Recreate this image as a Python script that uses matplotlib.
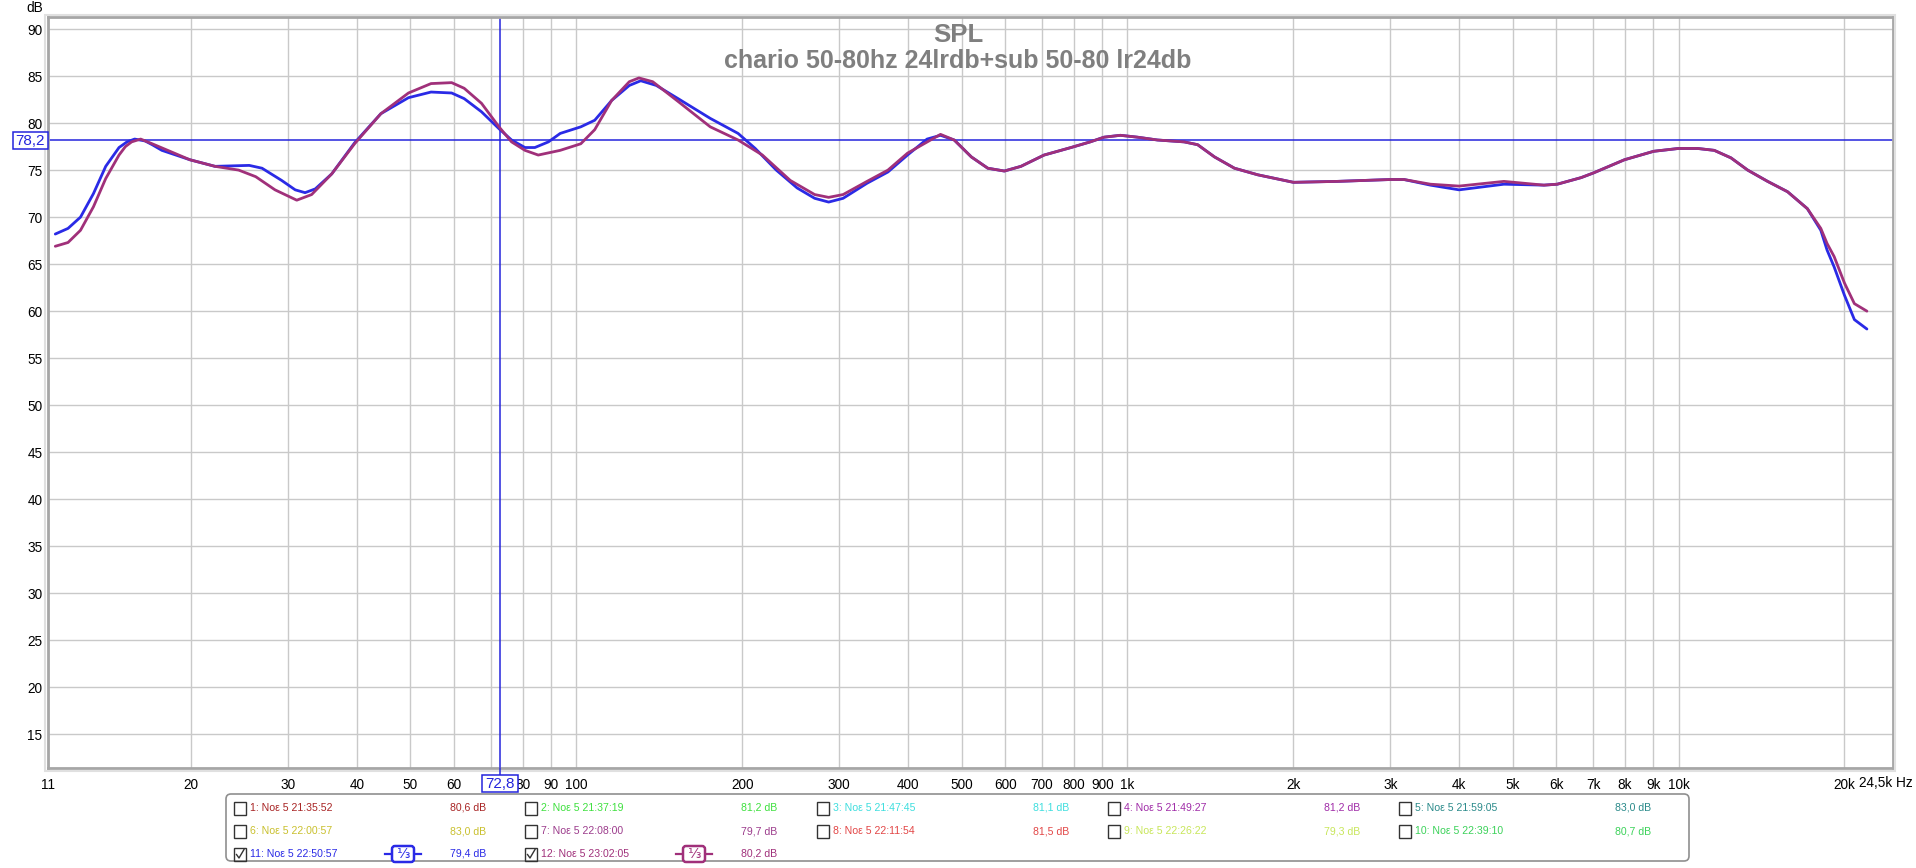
import matplotlib
matplotlib.use("Agg")
import matplotlib.pyplot as plt
from matplotlib import font_manager
from matplotlib.patches import FancyBboxPatch, Rectangle
from matplotlib.ticker import NullLocator, FixedLocator, FixedFormatter

# ---------------- data ----------------
title_main = "SPL"
title_sub = "chario 50-80hz 24lrdb+sub 50-80 lr24db"

x_ticks = [11, 20, 30, 40, 50, 60, 70, 80, 90, 100, 200, 300, 400, 500, 600, 700, 800, 900,
           1000, 2000, 3000, 4000, 5000, 6000, 7000, 8000, 9000, 10000, 20000]
x_tick_labels = ["11", "20", "30", "40", "50", "60", "70", "80", "90", "100", "200", "300", "400",
                 "500", "600", "700", "800", "900", "1k", "2k", "3k", "4k", "5k", "6k", "7k", "8k",
                 "9k", "10k", "20k"]
x_end_label = "24,5k Hz"
y_ticks = [15, 20, 25, 30, 35, 40, 45, 50, 55, 60, 65, 70, 75, 80, 85, 90]

cursor_freq = 72.8
cursor_db = 78.2
cursor_freq_label = "72,8"
cursor_db_label = "78,2"

# measurement 11 (blue)
freq_11 = [11.34, 11.96, 12.6, 13.3, 14.0, 14.8, 15.3, 15.8, 16.5, 17.0, 17.7, 19.9, 22.1, 25.5,
           26.9, 29.2, 30.9, 32.2, 33.6, 36.0, 39.6, 44.2, 49.6, 54.5, 59.4, 62.6, 67.3, 72.4,
           76.3, 80.7, 84.1, 89.0, 93.5, 101.9, 108, 115.9, 124.8, 130.9, 139.7, 153, 175,
           196.6, 211.2, 230.6, 251.6, 270.7, 287, 304.9, 336.9, 367.7, 399, 433, 458, 485, 521,
           558, 598, 641, 706, 790, 856, 907, 971, 1043, 1134, 1268, 1341, 1439, 1564, 1724,
           2001, 2405, 3005, 3175, 3547, 3998, 4822, 5700, 6025, 6657, 7010, 7978, 9015, 9998,
           10830, 11610, 12450, 13350, 14510, 15770, 17130, 18120, 18600, 19160, 20000, 20850,
           21970]
db_11 = [68.2, 68.8, 70.0, 72.5, 75.4, 77.4, 78.0, 78.3, 78.1, 77.7, 77.1, 76.1, 75.4, 75.5,
         75.2, 73.9, 72.9, 72.6, 73.0, 74.6, 77.9, 81.0, 82.7, 83.3, 83.2, 82.6, 81.2, 79.4,
         78.2, 77.4, 77.4, 78.0, 78.9, 79.6, 80.3, 82.4, 84.0, 84.5, 84.0, 82.6, 80.5,
         78.9, 77.3, 75.0, 73.1, 72.0, 71.6, 72.0, 73.6, 74.8, 76.6, 78.3, 78.7, 78.2, 76.4,
         75.2, 74.9, 75.4, 76.6, 77.4, 78.0, 78.5, 78.7, 78.5, 78.2, 78.0, 77.7, 76.4, 75.2, 74.5,
         73.7, 73.8, 74.0, 74.0, 73.4, 72.9, 73.5, 73.4, 73.5, 74.2, 74.7, 76.1, 77.0, 77.3,
         77.3, 77.1, 76.3, 75.0, 73.8, 72.7, 70.9, 68.6, 66.5, 64.7, 61.7, 59.1,
         58.1]

# measurement 12 (purple)
freq_12 = [11.34, 11.96, 12.6, 13.3, 14.0, 14.8, 15.2, 15.6, 16.2, 17.0, 19.9, 22.1, 24.4, 26.2,
           28.4, 31.1, 33.1, 36.0, 39.6, 44.2, 49.6, 54.5, 59.4, 62.6, 67.3, 72.4, 76.3, 80.7,
           85.3, 93.5, 101.9, 108, 115.9, 124.8, 129.9, 137.6, 153, 175, 196.6, 217.6, 244.5,
           270.7, 287, 304.9, 336.9, 367.7, 399, 458, 485, 521, 558, 598, 641, 706, 790, 856,
           907, 971, 1043, 1134, 1268, 1341, 1439, 1564, 1724, 2001, 2405, 3005, 3175, 3547,
           3998, 4822, 5700, 6025, 6657, 7010, 7978, 9015, 9998, 10830, 11610, 12450, 13350,
           14510, 15770, 17130, 18120, 18600, 19160, 20000, 20850, 21970]
db_12 = [66.9, 67.3, 68.6, 71.1, 74.1, 76.6, 77.5, 78.0, 78.3, 77.8, 76.1, 75.4, 75.0, 74.3,
         72.9, 71.8, 72.4, 74.6, 77.8, 81.0, 83.2, 84.2, 84.3, 83.7, 82.1, 79.6, 78.0, 77.1,
         76.6, 77.1, 77.8, 79.3, 82.4, 84.4, 84.8, 84.4, 82.3, 79.6, 78.2, 76.6, 73.9,
         72.4, 72.1, 72.4, 73.8, 75.0, 76.8, 78.8, 78.2, 76.4, 75.2, 74.9, 75.4, 76.6, 77.4, 78.0,
         78.5, 78.7, 78.5, 78.2, 78.0, 77.7, 76.4, 75.2, 74.5, 73.7, 73.8, 74.0, 74.0, 73.5,
         73.3, 73.8, 73.4, 73.5, 74.2, 74.7, 76.1, 77.0, 77.3, 77.3, 77.1, 76.3, 75.0,
         73.8, 72.7, 70.9, 68.8, 67.2, 65.8, 63.0, 60.8, 60.0]

legend_labels = ["1: Νοε 5 21:35:52", "2: Νοε 5 21:37:19", "3: Νοε 5 21:47:45",
                 "4: Νοε 5 21:49:27", "5: Νοε 5 21:59:05", "6: Νοε 5 22:00:57",
                 "7: Νοε 5 22:08:00", "8: Νοε 5 22:11:54", "9: Νοε 5 22:26:22",
                 "10: Νοε 5 22:39:10", "11: Νοε 5 22:50:57", "12: Νοε 5 23:02:05"]
legend_values = ["80,6 dB", "81,2 dB", "81,1 dB", "81,2 dB", "83,0 dB", "83,0 dB",
                 "79,7 dB", "81,5 dB", "79,3 dB", "80,7 dB", "79,4 dB", "80,2 dB"]
legend_colors = ["#a82424", "#3ee03e", "#3fdede", "#a02ca8", "#2a8a8a", "#c9c02e",
                 "#9c3c8c", "#e24646", "#c8e65a", "#3cd25a", "#2a2ae6", "#a0307a"]
legend_checked = [False] * 10 + [True, True]
legend_smoothing = [""] * 10 + ["⅓", "⅓"]

# ---------------- styling ----------------
def has_font(name):
    try:
        font_manager.findfont(font_manager.FontProperties(family=name), fallback_to_default=False)
        return True
    except Exception:
        return False

BASE = "Liberation Sans" if has_font("Liberation Sans") else "DejaVu Sans"
if has_font("Liberation Sans Narrow"):
    NARROW, NSIZE = "Liberation Sans Narrow", 9.0
else:
    NARROW, NSIZE = BASE, 7.6
plt.rcParams["font.family"] = [BASE, "DejaVu Sans"]

W, H = 1916, 868
L, R, T, B = 48, 1893, 17, 768
fig = plt.figure(figsize=(W / 100, H / 100), dpi=100)
fig.patch.set_facecolor("white")

ax = fig.add_axes([L / W, 1 - B / H, (R - L) / W, (B - T) / H])
ax.set_xscale("log")
ax.set_xlim(11, 24500)
ax.set_ylim(11.42, 91.28)
ax.set_axisbelow(True)
ax.xaxis.set_major_locator(FixedLocator(x_ticks))
ax.xaxis.set_major_formatter(FixedFormatter(x_tick_labels))
ax.xaxis.set_minor_locator(NullLocator())
ax.set_yticks(y_ticks)
ax.set_yticklabels([str(v) for v in y_ticks])
ax.tick_params(axis="both", length=0, labelsize=9.8, colors="black")
ax.tick_params(axis="x", pad=7)
ax.tick_params(axis="y", pad=4)
ax.grid(True, color="#c9c9c9", lw=1.0)
for s in ax.spines.values():
    s.set_color("#a6a6a6")
    s.set_linewidth(2.0)

CUR = "#2424dc"
ax.axhline(cursor_db, color=CUR, lw=1.1, zorder=1.8)
ax.axvline(cursor_freq, color=CUR, lw=1.1, zorder=1.8)

ax.plot(freq_11, db_11, color="#2a2ae6", lw=2.0, zorder=3, solid_joinstyle="round",
        solid_capstyle="round")
ax.plot(freq_12, db_12, color="#a0307a", lw=2.0, zorder=3.1, solid_joinstyle="round",
        solid_capstyle="round")

# ---------------- overlay in pixel coordinates ----------------
ov = fig.add_axes([0, 0, 1, 1])
ov.set_xlim(0, W)
ov.set_ylim(H, 0)
ov.axis("off")

# frame shadow
ov.add_patch(Rectangle((L - 2.5, T - 2.5), R - L + 5, B - T + 5, fill=False,
                       ec="#e0e0e0", lw=1.5))

# titles
ov.text(958, 42, title_main, ha="center", va="baseline", fontsize=18.5,
        fontweight="bold", color="#7f7f7f")
ov.text(958, 68, title_sub, ha="center", va="baseline", fontsize=18,
        fontweight="bold", color="#7f7f7f")

ov.text(43, 8, "dB", ha="right", va="center", fontsize=9.8, color="black")
ov.text(1913, 783, x_end_label, ha="right", va="center", fontsize=9.8, color="black")

# cursor boxes
xc = ax.transData.transform((cursor_freq, 50))[0]
yc = H - ax.transData.transform((100, cursor_db))[1]
ov.plot([xc, xc], [B, 775], color=CUR, lw=1.1)
ov.add_patch(Rectangle((xc - 18, 775), 36, 17, fc="white", ec=CUR, lw=1.1, zorder=5))
ov.text(xc, 784, cursor_freq_label, ha="center", va="center", fontsize=11, color=CUR, zorder=6)
ov.add_patch(Rectangle((13, yc - 8.5), L - 13, 17, fc="white", ec=CUR, lw=1.1, zorder=5))
ov.text((13 + L) / 2, yc + 0.5, cursor_db_label, ha="center", va="center", fontsize=11,
        color=CUR, zorder=6)

# legend panel
ov.add_patch(FancyBboxPatch((226, 794), 1689 - 226, 861 - 794,
                            boxstyle="round,pad=0,rounding_size=5",
                            fc="white", ec="#8f8f8f", lw=1.2))
row_y = [808, 831, 854]
col_x = [234, 525, 817, 1108, 1399]
for i, lab in enumerate(legend_labels):
    r, c = divmod(i, 5)
    x0, y0 = col_x[c], row_y[r]
    ov.add_patch(Rectangle((x0, y0 - 6.5), 12, 13, fill=False, ec="#333333", lw=1.0))
    if legend_checked[i]:
        ov.plot([x0 + 2.5, x0 + 5, x0 + 10], [y0 + 0.5, y0 + 4, y0 - 4.5],
                color="#333333", lw=1.0)
    col = legend_colors[i]
    ov.text(x0 + 16, y0, lab, ha="left", va="center", fontsize=NSIZE, color=col,
            family=[NARROW, "DejaVu Sans"])
    ov.text(x0 + 252, y0, legend_values[i], ha="right", va="center", fontsize=NSIZE,
            color=col, family=[NARROW, "DejaVu Sans"])
    if legend_smoothing[i]:
        sx = x0 + 169
        ov.plot([sx - 18, sx + 18], [y0, y0], color=col, lw=1.6)
        ov.add_patch(FancyBboxPatch((sx - 11, y0 - 8), 22, 16,
                                    boxstyle="round,pad=0,rounding_size=3",
                                    fc="white", ec=col, lw=1.8, zorder=4))
        ov.text(sx, y0 + 0.5, legend_smoothing[i], ha="center", va="center", fontsize=10,
                color=col, family=["DejaVu Sans"], zorder=5)

fig.savefig("out.png", dpi=100, facecolor="white")
